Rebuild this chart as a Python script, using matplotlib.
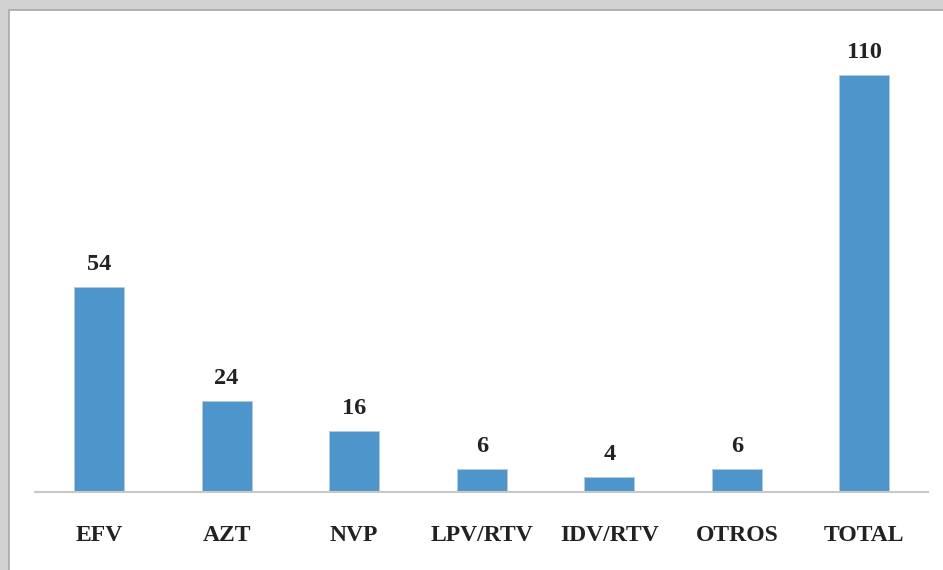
import matplotlib
matplotlib.use("Agg")
import matplotlib.pyplot as plt
from matplotlib.patches import Rectangle

categories = ["EFV", "AZT", "NVP", "LPV/RTV", "IDV/RTV", "OTROS", "TOTAL"]
values = [54, 24, 16, 6, 4, 6, 110]

W, H = 943, 570
fig = plt.figure(figsize=(W / 100, H / 100), dpi=100)
fig.patch.set_facecolor("#d2d2d2")

# white chart area with thin grey border (open to the right and bottom)
fig.patches.append(Rectangle((9 / W, -0.05), 1.1, 1.05 - 10 / H, transform=fig.transFigure,
                             facecolor="white", edgecolor="#a8a8a8", linewidth=1.2, zorder=-5))

ax = fig.add_axes([35.2 / W, 1 - 492 / H, 893 / W, 480 / H])
ax.set_zorder(2)
ax.set_facecolor("none")
x = list(range(len(categories)))
bars = ax.bar(x, values, width=0.392, color="#4e95cb", edgecolor="#b9c9d6", linewidth=0.6, zorder=2)
ax.set_xlim(-0.5, len(categories) - 0.5)
ax.set_ylim(0, 126.6)

for b, v in zip(bars, values):
    ax.annotate(str(v), (b.get_x() + b.get_width() / 2, v), xytext=(0, 12.2), textcoords="offset points",
                ha="center", va="baseline", fontsize=17.5, fontweight="bold",
                family="Liberation Serif", color="#222222")

for s in ["top", "right", "left"]:
    ax.spines[s].set_visible(False)
ax.spines["bottom"].set_color("#c8c8c8")
ax.spines["bottom"].set_linewidth(1.5)
ax.set_yticks([])
ax.set_xticks(x)
ax.set_xticklabels(categories, fontsize=17, fontweight="bold", family="Liberation Serif", color="#222222")
for lbl in ax.get_xticklabels():
    lbl.set_va("baseline")
ax.tick_params(axis="x", length=0, pad=35.3)

fig.savefig("out.png", dpi=100, facecolor=fig.get_facecolor())
